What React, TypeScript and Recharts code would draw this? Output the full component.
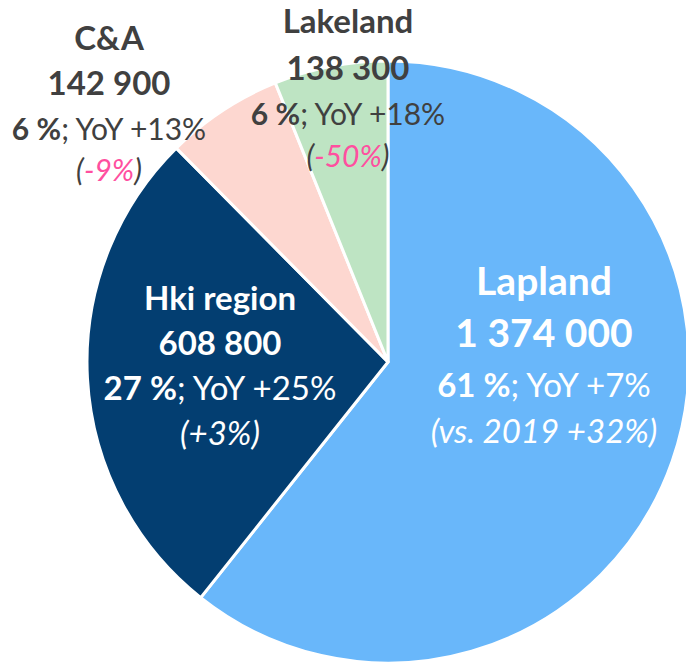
import { PieChart, Pie, Cell } from 'recharts';

const REGIONS = ['Lapland', 'Hki region', 'C&A', 'Lakeland'];
const VISITORS = [1374000, 608800, 142900, 138300];
const YOY = [7, 25, 13, 18];
const VS_2019 = [32, 3, -9, -50];

const COLORS = ['#69B7FA', '#033E71', '#FDD7D0', '#BEE4C3'];
const TEXT_COLORS = ['#FFFFFF', '#FFFFFF', '#404040', '#404040'];
const NEG_COLOR = '#FF4F9F';

// label placement relative to the pie centre: x offset and the four baselines
const LABEL_LAYOUT = [
  { dx: 156, lines: [-67, -15, 35, 81], head: 39, body: 33 },
  { dx: -168, lines: [-52, -7, 38, 83], head: 33, body: 33 },
  { dx: -279, lines: [-312, -267, -222, -181], head: 33, body: 30 },
  { dx: -40, lines: [-329, -282, -237, -195], head: 33, body: 30 },
];

const data = REGIONS.map((name, i) => ({ name, value: VISITORS[i] }));

const fmt = (n: number) => n.toString().replace(/\B(?=(\d{3})+(?!\d))/g, ' ');
const signed = (n: number) => (n > 0 ? `+${n}%` : `${n}%`);

function renderLabel(props: any) {
  const { cx, cy, index, percent } = props;
  const lay = LABEL_LAYOUT[index];
  const x = cx + lay.dx;
  const fill = TEXT_COLORS[index];
  const vs = VS_2019[index];
  const vsText = index === 0 ? `vs. 2019 ${signed(vs)}` : signed(vs);
  return (
    <g fontFamily="Lato, sans-serif" textAnchor="middle" fill={fill}>
      <text x={x} y={cy + lay.lines[0]} fontSize={lay.head} fontWeight="bold">
        {REGIONS[index]}
      </text>
      <text x={x} y={cy + lay.lines[1]} fontSize={lay.head} fontWeight="bold">
        {fmt(VISITORS[index])}
      </text>
      <text x={x} y={cy + lay.lines[2]} fontSize={lay.body}>
        <tspan fontWeight="bold">{Math.round(percent * 100)} %</tspan>
        <tspan>; YoY {signed(YOY[index])}</tspan>
      </text>
      <text x={x} y={cy + lay.lines[3]} fontSize={lay.body} fontStyle="italic">
        (<tspan fill={vs < 0 ? NEG_COLOR : fill}>{vsText}</tspan>)
      </text>
    </g>
  );
}

export default function App() {
  return (
    <div style={{ position: 'absolute', left: 0, top: 0 }}>
      <PieChart width={686} height={662} margin={{ top: 0, right: 0, bottom: 0, left: 0 }}>
        <Pie
          data={data}
          dataKey="value"
          cx={388}
          cy={362}
          outerRadius={301}
          startAngle={90}
          endAngle={-270}
          stroke="#FFFFFF"
          strokeWidth={3}
          label={renderLabel}
          labelLine={false}
          isAnimationActive={false}
        >
          {data.map((entry, i) => (
            <Cell key={entry.name} fill={COLORS[i]} />
          ))}
        </Pie>
      </PieChart>
    </div>
  );
}
